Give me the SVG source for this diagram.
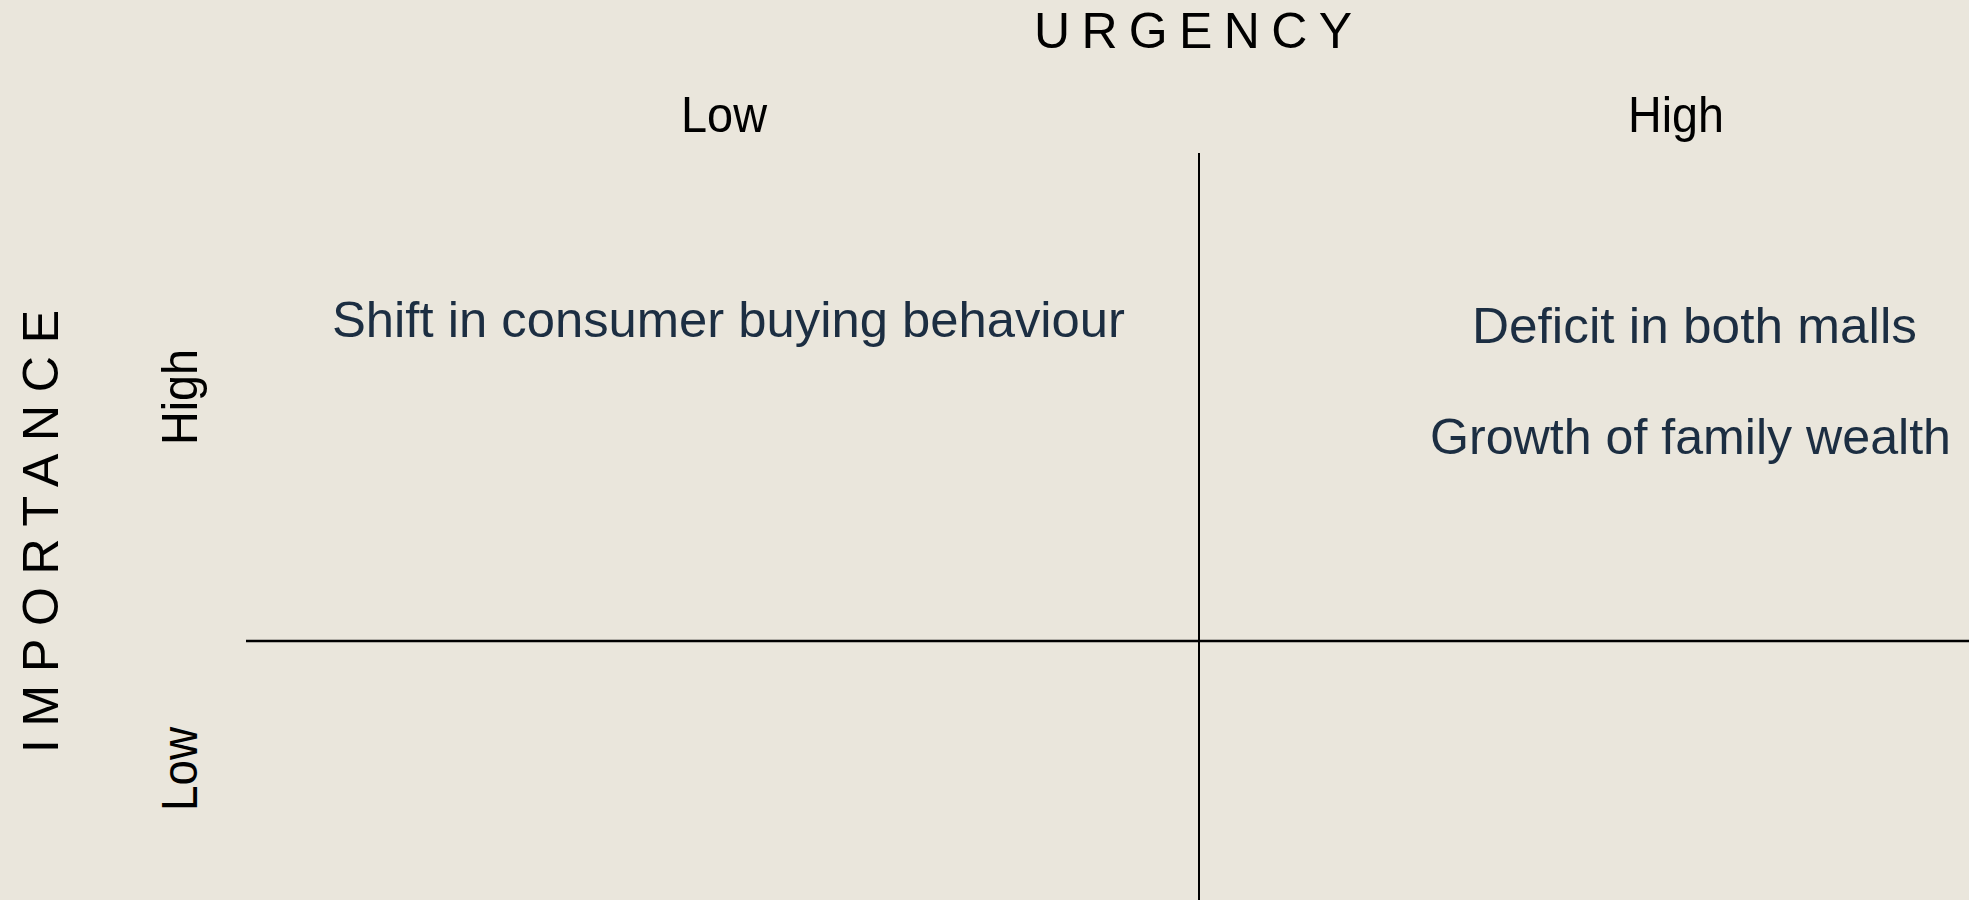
<svg xmlns="http://www.w3.org/2000/svg" width="1969" height="900" viewBox="0 0 1969 900">
  <style>
    .axis { font-family: "Liberation Sans", Arial, sans-serif; font-size: 50px; fill: #000000; }
    .item { font-family: "Liberation Sans", Arial, sans-serif; font-size: 50px; fill: #1c2e42; }
    .grid { stroke: #000000; fill: none; }
  </style>
  <rect x="0" y="0" width="1969" height="900" fill="#eae6dc"/>

  <!-- quadrant divider lines -->
  <g id="connectors">
    <line class="grid" x1="1199" y1="153" x2="1199" y2="900" stroke-width="2"/>
    <line class="grid" x1="246" y1="641" x2="1969" y2="641" stroke-width="2.6"/>
  </g>

  <!-- axis titles -->
  <g id="axis-urgency">
    <text class="axis" x="1034" y="48" textLength="318" lengthAdjust="spacing">URGENCY</text>
  </g>
  <g id="axis-importance">
    <text class="axis" transform="translate(58,753) rotate(-90)" x="0" y="0" textLength="443" lengthAdjust="spacing">IMPORTANCE</text>
  </g>

  <!-- axis levels -->
  <g id="urgency-low">
    <text class="axis" x="681" y="132" textLength="86" lengthAdjust="spacingAndGlyphs">Low</text>
  </g>
  <g id="urgency-high">
    <text class="axis" x="1628" y="132" textLength="96" lengthAdjust="spacingAndGlyphs">High</text>
  </g>
  <g id="importance-high">
    <text class="axis" transform="translate(197,445) rotate(-90)" x="0" y="0" textLength="96" lengthAdjust="spacingAndGlyphs">High</text>
  </g>
  <g id="importance-low">
    <text class="axis" transform="translate(197,811) rotate(-90)" x="0" y="0" textLength="84" lengthAdjust="spacingAndGlyphs">Low</text>
  </g>

  <!-- quadrant entries -->
  <g id="item-shift">
    <text class="item" x="332" y="337" textLength="793" lengthAdjust="spacingAndGlyphs">Shift in consumer buying behaviour</text>
  </g>
  <g id="item-deficit">
    <text class="item" x="1472" y="343" textLength="445" lengthAdjust="spacingAndGlyphs">Deficit in both malls</text>
  </g>
  <g id="item-growth">
    <text class="item" x="1430" y="454" textLength="521" lengthAdjust="spacingAndGlyphs">Growth of family wealth</text>
  </g>
</svg>
